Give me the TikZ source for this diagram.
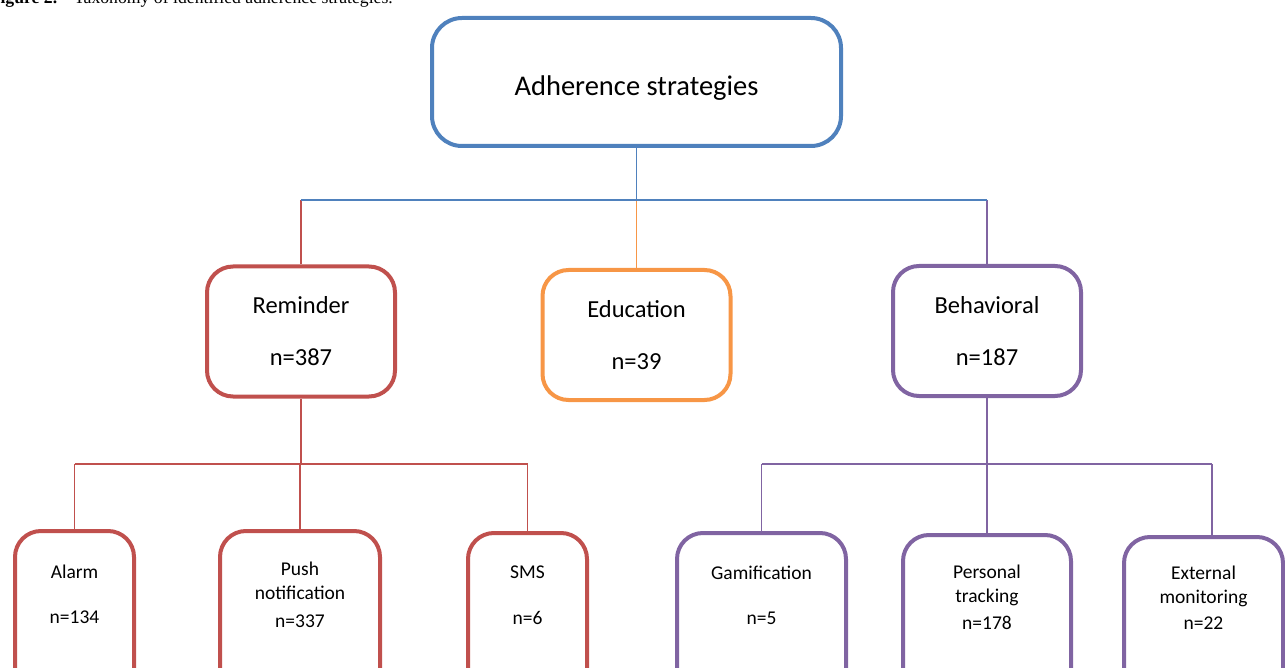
\documentclass[tikz,border=0pt]{standalone}
\usepackage{fontspec}
\setmainfont{Carlito}
\newfontfamily\captionfont{Liberation Serif}
\definecolor{rootblue}{HTML}{4F81BD}
\definecolor{remred}{HTML}{C0504D}
\definecolor{eduorange}{HTML}{F79646}
\definecolor{behpurple}{HTML}{8064A2}

\begin{document}
\begin{tikzpicture}[x=1pt,y=-1pt,
  box/.style={draw,line width=4pt,fill=white,rounded corners=26pt,align=center,inner sep=0pt},
  rootbox/.style={box,draw=rootblue,minimum width=409pt,minimum height=128pt,
    rounded corners=30pt,text height=28pt,text depth=0pt,font=\fontsize{28.5}{34}\selectfont},
  midbox/.style={box,minimum width=188pt,minimum height=130pt,font=\fontsize{24.5}{52}\selectfont},
  leafbox/.style={box,anchor=north,text height=0pt,text depth=0pt,
    font=\fontsize{19.5}{24}\selectfont},
  link/.style={line width=1.6pt}]
  \useasboundingbox (0,0) rectangle (1285,668);
  \clip (0,0) rectangle (1285,668);

  % caption, cut off by the page edge
  \node[anchor=base east,inner sep=0pt,font=\captionfont\fontsize{17.7}{20}\selectfont] (caption) at (393,4)
    {\textbf{Figure 2.}\hspace{0.95em}Taxonomy of identified adherence strategies.};

  % top level
  \node[rootbox] (root) at (636.5,82) {Adherence strategies};

  % strategy groups
  \node[midbox,draw=remred] (rem) at (301,331.5) {Reminder\\n=387};
  \node[midbox,draw=eduorange] (edu) at (636.5,335) {Education\\n=39};
  \node[midbox,draw=behpurple] (beh) at (987,331) {Behavioral\\n=187};

  % reminder types (box centre sits on the last baseline)
  \node[leafbox,draw=remred,minimum width=119pt,minimum height=184pt] (alarm) at (74.5,529)
    {Alarm\\[21pt]n=134};
  \node[leafbox,draw=remred,minimum width=160pt,minimum height=192pt] (push) at (300,529)
    {Push\\notification\\[4pt]n=337};
  \node[leafbox,draw=remred,minimum width=119pt,minimum height=182pt] (sms) at (527.5,531)
    {SMS\\[22pt]n=6};

  % behavioral types
  \node[leafbox,draw=behpurple,minimum width=169pt,minimum height=182pt] (gam) at (761.5,531)
    {Gamification\\[21pt]n=5};
  \node[leafbox,draw=behpurple,minimum width=168pt,minimum height=188pt] (track) at (987,533)
    {Personal\\tracking\\[3pt]n=178};
  \node[leafbox,draw=behpurple,minimum width=159pt,minimum height=184pt] (ext) at (1203.5,535)
    {External\\monitoring\\[2pt]n=22};

  % connectors from the top box
  \coordinate (fork) at (636.5,200);
  \draw[link,rootblue] (root.south) -- (fork);
  \draw[link,remred] (rem.north |- fork) -- (rem.north);
  \draw[link,eduorange] (edu.north |- fork) -- (edu.north);
  \draw[link,behpurple] (beh.north |- fork) -- (beh.north);
  \draw[link,rootblue] (rem.north |- fork) -- (beh.north |- fork);

  % reminder branch
  \coordinate (remfork) at (301,464);
  \draw[link,remred] (rem.south) -- (remfork);
  \draw[link,remred] (alarm.north |- remfork) -- (sms.north |- remfork);
  \draw[link,remred] (alarm.north |- remfork) -- (alarm.north);
  \draw[link,remred] (push.north |- remfork) -- (push.north);
  \draw[link,remred] (sms.north |- remfork) -- (sms.north);

  % behavioral branch
  \coordinate (behfork) at (987,464);
  \coordinate (extin) at ([xshift=8.5pt]ext.north);
  \draw[link,behpurple] (beh.south) -- (behfork);
  \draw[link,behpurple] (gam.north |- behfork) -- (extin |- behfork);
  \draw[link,behpurple] (gam.north |- behfork) -- (gam.north);
  \draw[link,behpurple] (track.north |- behfork) -- (track.north);
  \draw[link,behpurple] (extin |- behfork) -- (extin);
\end{tikzpicture}
\end{document}
